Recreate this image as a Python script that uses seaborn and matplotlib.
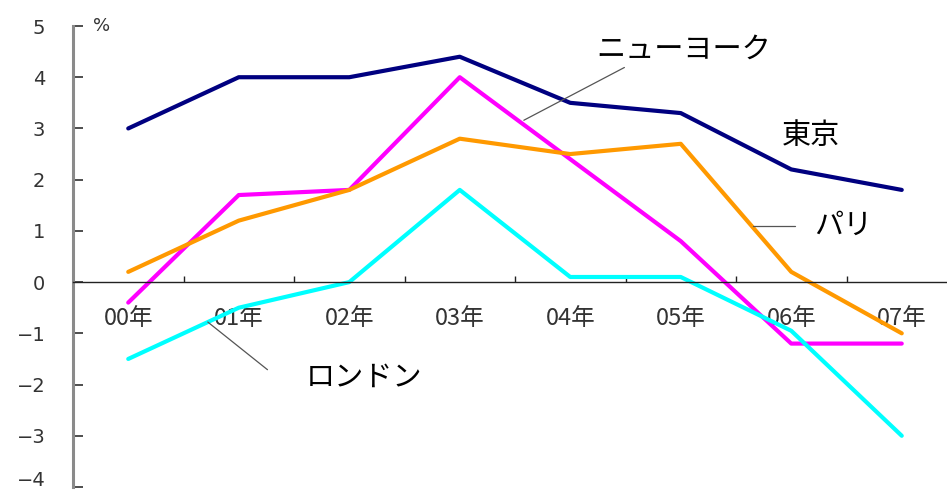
import numpy as np
import pandas as pd
import matplotlib
matplotlib.use("Agg")
import matplotlib.pyplot as plt
import seaborn as sns

# Annual change (%) by city
years = ["00年", "01年", "02年", "03年", "04年", "05年", "06年", "07年"]
tokyo = [3.0, 4.0, 4.0, 4.4, 3.5, 3.3, 2.2, 1.8]
new_york = [-0.4, 1.7, 1.8, 4.0, 2.4, 0.8, -1.2, -1.2]
paris = [0.2, 1.2, 1.8, 2.8, 2.5, 2.7, 0.2, -1.0]
london = [-1.5, -0.5, 0.0, 1.8, 0.1, 0.1, -0.95, -3.0]

cities = ["東京", "ニューヨーク", "パリ", "ロンドン"]
colors = ["#000080", "#FF00FF", "#FF9900", "#00FFFF"]
y_ticks = [5, 4, 3, 2, 1, 0, -1, -2, -3, -4]

sns.set_theme(style="white")
plt.rcParams["font.family"] = ["Noto Sans CJK JP", "DejaVu Sans"]
plt.rcParams["axes.unicode_minus"] = True

df = pd.DataFrame({
    "x": list(range(len(years))) * 4,
    "value": tokyo + new_york + paris + london,
    "city": [c for c in cities for _ in years],
})

fig = plt.figure(figsize=(9.47, 4.95), dpi=100)
ax = fig.add_axes([73 / 947, 8 / 495, 884 / 947, 461 / 495])

sns.lineplot(data=df, x="x", y="value", hue="city", hue_order=cities,
             palette=colors, linewidth=3, sort=False, legend=False, ax=ax)

ax.set_xlim(-0.5, 7.5)
ax.set_ylim(-4, 5)
ax.set_xlabel("")
ax.set_ylabel("")

# y axis: grey spine, inward ticks
for side in ["top", "right"]:
    ax.spines[side].set_visible(False)
ax.spines["left"].set_color("#8a8a8a")
ax.spines["left"].set_linewidth(2.2)
ax.set_yticks(y_ticks)
num_font = dict(family=["DejaVu Sans"], size=14, color="#333333")
# the lowest label is drawn separately, nudged up to stay inside the canvas
ax.set_yticklabels([str(v).replace("-", "\u2212") if v != y_ticks[-1] else ""
                    for v in y_ticks], fontdict=num_font)
ax.tick_params(axis="y", left=True, direction="in", length=7, width=1.3,
               color="#404040", pad=20)
ax.annotate(str(y_ticks[-1]).replace("-", "\u2212"), xy=(0, y_ticks[-1]),
            xycoords=ax.get_yaxis_transform(), xytext=(-20, 6),
            textcoords="offset points", ha="right", va="center_baseline",
            **num_font)

# x axis sits on the zero line, ticks between categories
ax.spines["bottom"].set_position(("data", 0))
ax.spines["bottom"].set_color("#222222")
ax.spines["bottom"].set_linewidth(1.0)
ax.set_xticks(range(len(years)))
ax.set_xticklabels(years)
ax.set_xticks(np.arange(-0.5, len(years), 1.0), minor=True)
ax.tick_params(axis="x", which="major", length=0, pad=18, labelsize=17,
               labelcolor="#333333")
ax.tick_params(axis="x", which="minor", direction="in", length=4, width=1,
               color="#222222", bottom=True)

ax.text(-0.24, 5.0, "%", fontsize=13, color="#333333", ha="center", va="center",
        family=["DejaVu Sans"])

# city labels with leader lines
lab = dict(fontsize=21, color="black", ha="center", va="center")
ax.text(5.03, 4.53, "ニューヨーク", **lab)
ax.plot([4.49, 3.58], [4.19, 3.16], color="#555555", lw=0.9)
ax.text(6.18, 2.85, "東京", **lab)
ax.text(6.47, 1.09, "パリ", **lab)
ax.plot([5.65, 6.03], [1.10, 1.10], color="#555555", lw=0.9)
ax.text(2.13, -1.86, "ロンドン", **lab)
ax.plot([0.72, 1.26], [-0.78, -1.71], color="#555555", lw=0.9)

fig.savefig("out.png", dpi=100)
